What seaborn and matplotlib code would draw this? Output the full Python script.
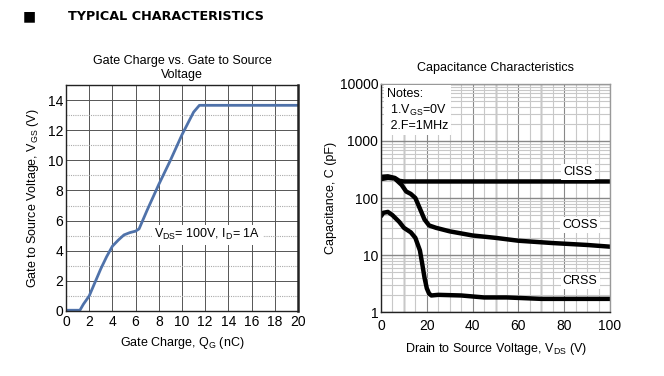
import matplotlib
matplotlib.use("Agg")
import matplotlib.pyplot as plt
import matplotlib.ticker as mticker
import seaborn as sns
import pandas as pd
import numpy as np

# ---- data: gate charge ----
qg = [0, 1.2, 1.5, 2.0, 2.5, 3.0, 3.5, 4.0, 4.5, 5.0, 5.5, 6.0, 6.3, 7.0, 8.0, 9.0, 10.0, 11.0, 11.5, 20.0]
vgs = [0.05, 0.05, 0.45, 1.0, 1.9, 2.8, 3.6, 4.3, 4.7, 5.05, 5.2, 5.3, 5.45, 6.7, 8.4, 10.0, 11.7, 13.2, 13.65, 13.65]

# ---- data: capacitance ----
v_ciss = [0, 3, 6, 8, 10, 100]
c_ciss = [235, 240, 225, 200, 195, 195]
v_coss = [0, 3, 6, 9, 11, 13, 15, 17, 19, 21, 24, 30, 40, 50, 60, 75, 90, 100]
c_coss = [215, 225, 220, 170, 130, 118, 100, 65, 42, 33, 30, 26, 22, 20, 17.8, 16.2, 15, 14]
v_crss = [0, 1, 3, 5, 8, 10, 13, 15, 17, 18, 19, 20, 21, 22, 25, 35, 45, 55, 70, 85, 100]
c_crss = [48, 55, 57, 50, 38, 30, 25, 20, 12, 7, 4, 2.6, 2.1, 1.95, 2.0, 1.95, 1.8, 1.8, 1.7, 1.7, 1.7]

left_xticks = list(range(0, 21, 2))
left_yticks = list(range(0, 15, 2))
right_xticks = list(range(0, 101, 20))
right_yticks = [1, 10, 100, 1000, 10000]

sns.set_style("white")
plt.rcParams['font.family'] = ['Liberation Sans', 'DejaVu Sans']
plt.rcParams['text.color'] = 'black'
plt.rcParams['axes.labelcolor'] = 'black'
plt.rcParams['xtick.color'] = 'black'
plt.rcParams['ytick.color'] = 'black'

fig = plt.figure(figsize=(6.64, 3.76), dpi=100)
ax1 = fig.add_axes([0.0994, 0.1729, 0.3494, 0.6011])
ax2 = fig.add_axes([0.5738, 0.1702, 0.3449, 0.6064])

# header
fig.text(0.0345, 0.957, "\u25A0", fontsize=10, va='center', ha='left', family='DejaVu Sans', color='black')
fig.text(0.102, 0.957, "TYPICAL CHARACTERISTICS", fontsize=9.2, fontweight='heavy',
         va='center', ha='left', family='DejaVu Sans', color='black')

# ---- left plot ----
df1 = pd.DataFrame({"qg": qg, "vgs": vgs})
sns.lineplot(data=df1, x="qg", y="vgs", ax=ax1, color="#4f72aa", linewidth=2.0)
ax1.set_xlim(0, 20)
ax1.set_ylim(0, 15)
ax1.set_xticks(left_xticks)
ax1.set_yticks(left_yticks)
ax1.yaxis.set_minor_locator(mticker.MultipleLocator(1))
ax1.grid(True, which='major', color='#555555', linewidth=0.7)
ax1.grid(True, which='minor', axis='y', color='#aaaaaa', linewidth=0.8, linestyle=(0, (1, 1)))
ax1.set_axisbelow(True)
ax1.tick_params(which='both', length=0, labelsize=10, pad=2)
ax1.tick_params(axis='x', pad=3)
for s in ax1.spines.values():
    s.set_color('#222222'); s.set_linewidth(1.0)
ax1.spines['right'].set_linewidth(1.8)
ax1.set_xlabel("Gate Charge, Q$_\\mathregular{G}$ (nC)", fontsize=9, labelpad=4)
ax1.set_ylabel("Gate to Source Voltage, V$_\\mathregular{GS}$ (V)", fontsize=9, labelpad=5)
ax1.set_title("Gate Charge vs. Gate to Source\nVoltage", fontsize=9, pad=5, linespacing=1.25)
ax1.text(12.2, 5.05, "V$_\\mathregular{DS}$= 100V, I$_\\mathregular{D}$= 1A", fontsize=9, ha='center', va='center',
         bbox=dict(facecolor='white', edgecolor='none', pad=1.5))

# ---- right plot ----
df2 = pd.concat([
    pd.DataFrame({"v": v_ciss, "c": c_ciss, "s": "CISS"}),
    pd.DataFrame({"v": v_coss, "c": c_coss, "s": "COSS"}),
    pd.DataFrame({"v": v_crss, "c": c_crss, "s": "CRSS"}),
])
sns.lineplot(data=df2, x="v", y="c", hue="s", palette=["black"] * 3, ax=ax2,
             linewidth=3.2, legend=False, sort=False)
ax2.set_yscale('log')
ax2.set_xlim(0, 100)
ax2.set_ylim(1, 10000)
ax2.set_xticks(right_xticks)
ax2.set_yticks(right_yticks)
ax2.yaxis.set_major_formatter(mticker.FuncFormatter(lambda v, p: f"{int(v)}"))
ax2.yaxis.set_minor_locator(mticker.LogLocator(base=10, subs=np.arange(2, 10)))
ax2.yaxis.set_minor_formatter(mticker.NullFormatter())
ax2.xaxis.set_minor_locator(mticker.MultipleLocator(5))
ax2.grid(True, which='major', axis='y', color='#888888', linewidth=1.0)
ax2.grid(True, which='minor', axis='y', color='#c8c8c8', linewidth=0.8)
ax2.grid(True, which='major', axis='x', color='#888888', linewidth=0.8)
ax2.grid(True, which='minor', axis='x', color='#c8c8c8', linewidth=0.8)
for xv in [10, 50, 70]:
    ax2.axvline(xv, color='#777777', linewidth=1.0, zorder=0.5)
ax2.set_axisbelow(True)
ax2.tick_params(which='both', length=0, labelsize=10, pad=2)
ax2.tick_params(axis='x', pad=5)
for s in ax2.spines.values():
    s.set_color('#999999'); s.set_linewidth(1.0)
ax2.spines['left'].set_color('#222222')
ax2.spines['bottom'].set_color('#222222')
ax2.set_xlabel("Drain to Source Voltage, V$_\\mathregular{DS}$ (V)", fontsize=9, labelpad=6)
ax2.set_ylabel("Capacitance, C (pF)", fontsize=9, labelpad=2)
ax2.set_title("Capacitance Characteristics", fontsize=9, pad=9)
bb = dict(facecolor='white', edgecolor='none', pad=1.5)
ax2.text(86, 290, "CISS", fontsize=9, ha='center', va='center', bbox=bb)
ax2.text(87, 34, "COSS", fontsize=9, ha='center', va='center', bbox=bb)
ax2.text(87, 3.5, "CRSS", fontsize=9, ha='center', va='center', bbox=bb)
ax2.text(2.5, 8500, "Notes:\n 1.V$_\\mathregular{GS}$=0V\n 2.F=1MHz", fontsize=9, ha='left', va='top',
         linespacing=1.25, bbox=dict(facecolor='white', edgecolor='none', pad=2))

fig.savefig("out.png", dpi=100, facecolor='white')
